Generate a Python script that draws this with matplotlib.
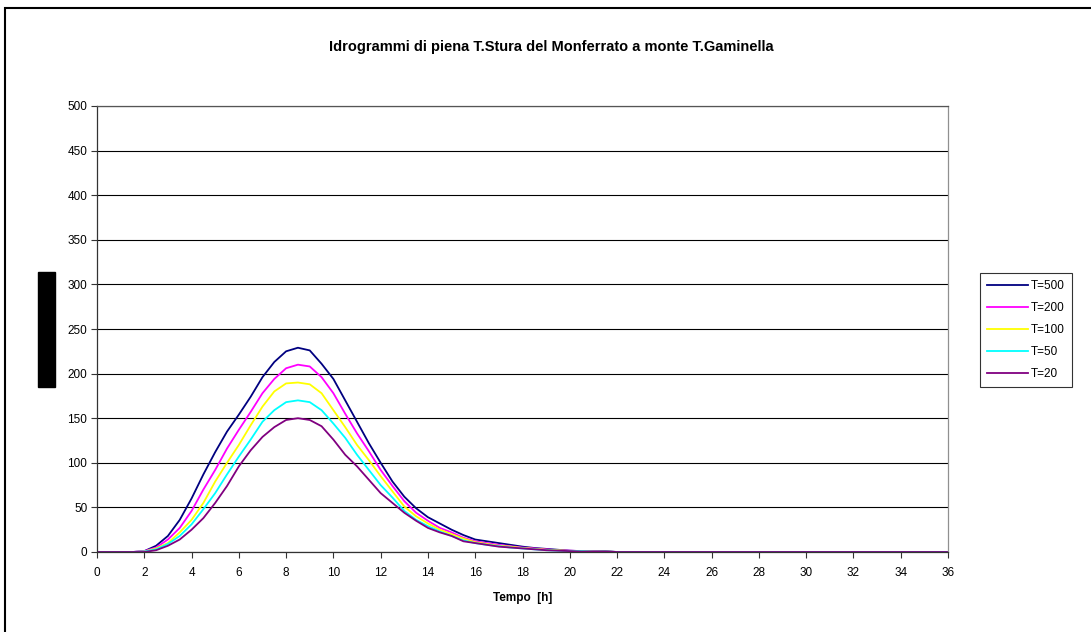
import matplotlib
matplotlib.use('Agg')
import matplotlib.pyplot as plt
from matplotlib.patches import Rectangle

plt.rcParams['font.family'] = ['Liberation Sans', 'DejaVu Sans']

# --- data (time in hours, discharge) ---
times = [0, 1.5, 2, 2.5, 3, 3.5, 4, 4.5, 5, 5.5, 6, 6.5, 7, 7.5, 8, 8.5, 9, 9.5,
         10, 10.5, 11, 11.5, 12, 12.5, 13, 13.5, 14, 14.5, 15, 15.5, 16, 16.5,
         17, 17.5, 18, 18.5, 19, 19.5, 20, 20.5, 21, 21.5, 22, 36]

q_500 = [0, 0, 1, 7, 18, 36, 60, 87, 112, 135, 154, 174, 196, 213, 225, 229, 226, 211,
         194, 170, 146, 122, 100, 79, 62, 49, 39, 32, 25, 19, 14, 12,
         10, 8, 6, 4.5, 3.5, 2.5, 1.5, 1, 1, 1, 0, 0]
q_200 = [0, 0, 1, 5, 14, 27, 46, 70, 92, 116, 137, 157, 178, 194, 206, 210, 208, 196,
         178, 155, 133, 113, 92, 74, 57, 44, 35, 27, 22, 16, 12, 10,
         8, 6.5, 5, 4, 3, 2, 1.5, 1, 1, 0.5, 0, 0]
q_100 = [0, 0, 0.5, 4, 10, 22, 36, 55, 79, 100, 120, 142, 163, 180, 189, 190, 188, 178,
         159, 140, 120, 103, 85, 68, 51, 40, 32, 25, 20, 15, 11, 9,
         7, 6, 4.5, 3.5, 2.5, 2, 1, 1, 0.5, 0.5, 0, 0]
q_50 = [0, 0, 0.5, 3, 9, 18, 31, 48, 66, 87, 107, 126, 146, 159, 168, 170, 168, 159,
        144, 128, 109, 92, 75, 61, 46, 36, 29, 23, 18, 13, 10, 8,
        6.5, 5, 4, 3, 2, 1.5, 1, 1, 0.5, 0.5, 0, 0]
q_20 = [0, 0, 0, 2, 7, 14, 25, 38, 55, 74, 96, 114, 129, 140, 148, 150, 148, 141,
        126, 109, 96, 81, 66, 55, 44, 35, 27, 22, 18, 12, 10, 8,
        6, 5, 4, 3, 2, 1.5, 1, 0.5, 0.5, 0.5, 0, 0]

labels = ['T=500', 'T=200', 'T=100', 'T=50', 'T=20']
colors = ['#000080', '#FF00FF', '#FFFF00', '#00FFFF', '#800080']
series = [q_500, q_200, q_100, q_50, q_20]

W, H = 1091, 632
fig = plt.figure(figsize=(W / 100, H / 100), dpi=100)
ax = fig.add_axes([97 / W, 1 - 552 / H, (948 - 97) / W, (552 - 106) / H])

for q, c, lab in zip(series, colors, labels):
    ax.plot(times, q, color=c, lw=1.3, label=lab)

ax.set_xlim(0, 36)
ax.set_ylim(0, 500)
ax.set_xticks(range(0, 37, 2))
ax.set_yticks(range(0, 501, 50))
ax.yaxis.grid(True, color='black', lw=0.8)
ax.set_axisbelow(True)
ax.tick_params(labelsize=8.5, length=4, width=0.8, color='#333333')
ax.tick_params(axis='x', pad=7)
ax.tick_params(axis='y', pad=3)

ax.spines['left'].set_color('#333333')
ax.spines['bottom'].set_color('#333333')
ax.spines['top'].set_color('#555555')
ax.spines['right'].set_color('#909090')
for s in ax.spines.values():
    s.set_linewidth(0.9)

ax.set_xlabel('Tempo  [h]', fontsize=8.5, fontweight='bold', labelpad=9)
fig.text(551 / W, 1 - 47 / H,
         'Idrogrammi di piena T.Stura del Monferrato a monte T.Gaminella',
         ha='center', va='center', fontsize=10.5, fontweight='bold')

leg = ax.legend(loc='upper left', bbox_to_anchor=(980 / W, 1 - 273 / H),
                bbox_transform=fig.transFigure, fontsize=8.5, frameon=True,
                fancybox=False, edgecolor='black', handlelength=3.5,
                handletextpad=0.2, borderpad=0.6, labelspacing=0.85,
                borderaxespad=0)
leg.get_frame().set_linewidth(0.8)

# black box covering the y-axis title, and the outer chart border
fig.patches.append(Rectangle((38 / W, 1 - 387 / H), 17 / W, 115 / H,
                             transform=fig.transFigure, color='black'))
fig.patches.append(Rectangle((5 / W, -0.05), 1.1, 1 - 8 / H + 0.05,
                             transform=fig.transFigure, fill=False,
                             edgecolor='black', lw=1.5))

fig.savefig('out.png', dpi=100)
